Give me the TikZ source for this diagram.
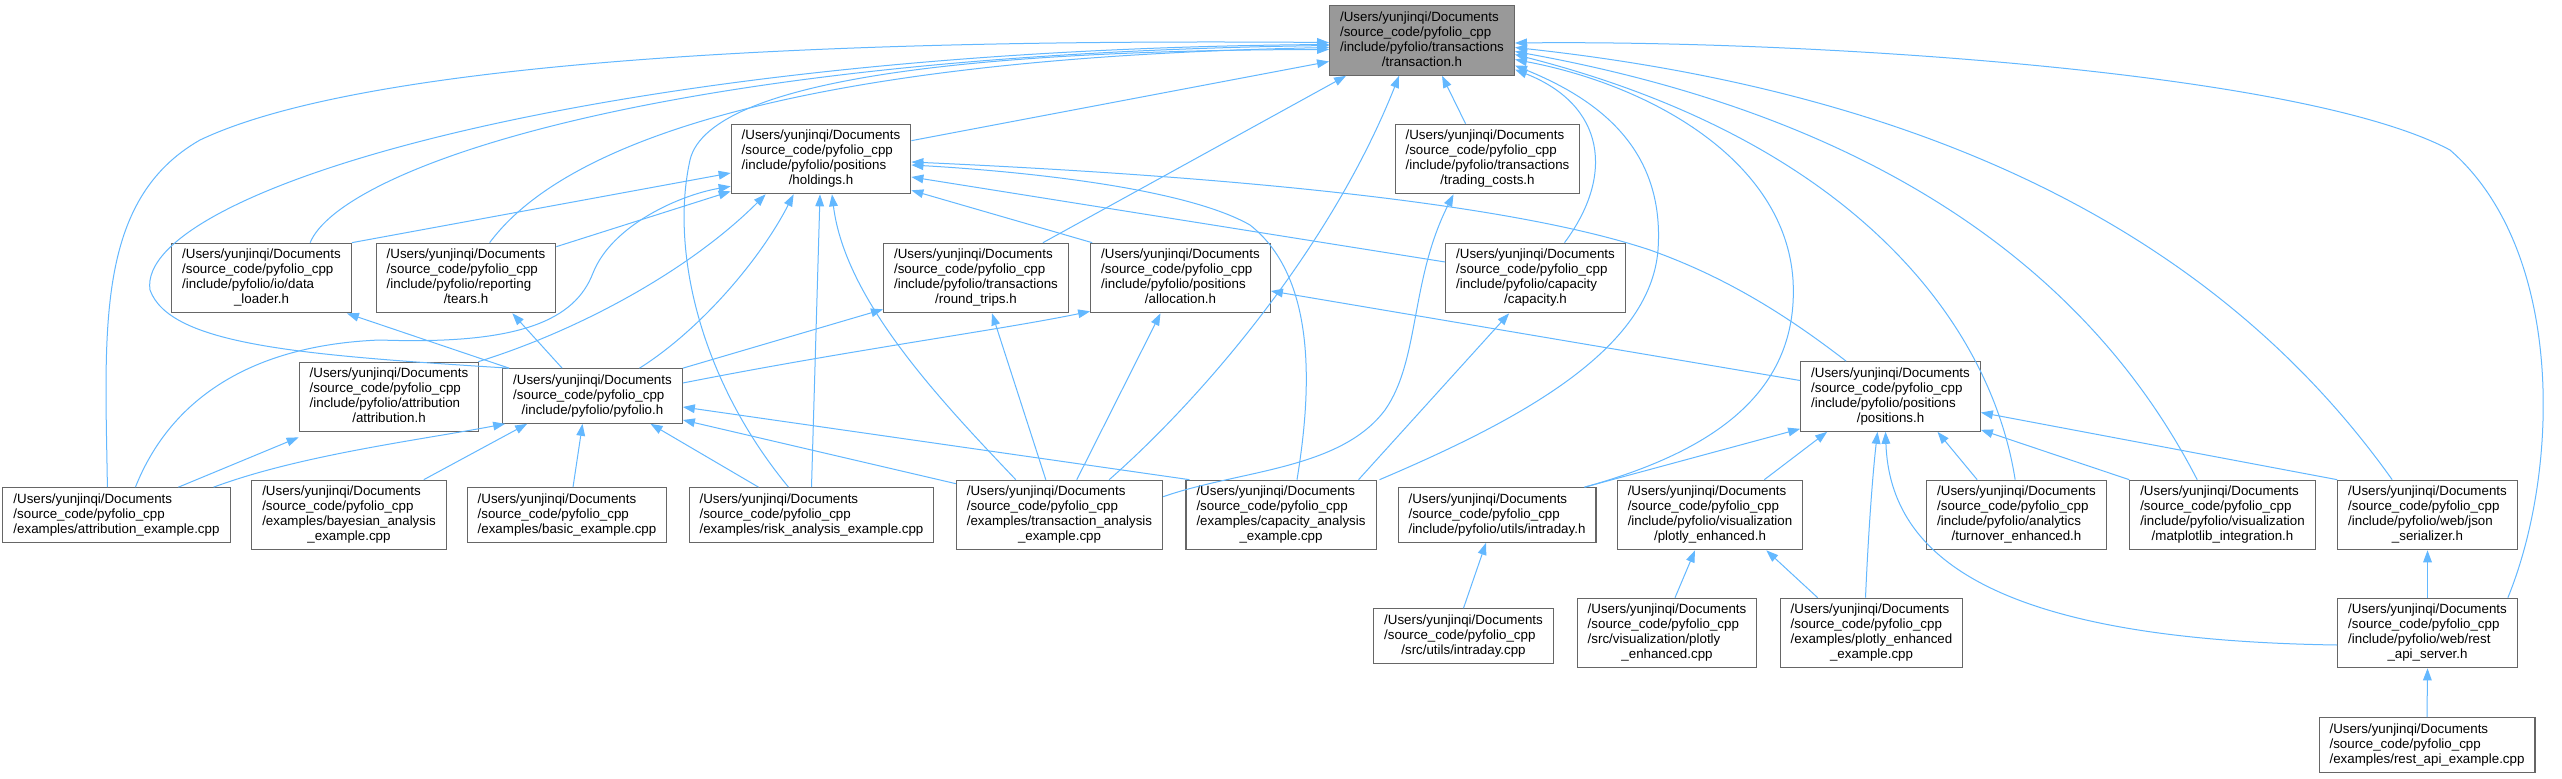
\documentclass[tikz,border=0pt]{standalone}
\usepackage{fontspec}
\setmainfont{Liberation Sans}
\usetikzlibrary{arrows.meta, calc}
\definecolor{edgeblue}{RGB}{99,184,255}
\definecolor{boxline}{RGB}{102,102,102}
\definecolor{rootfill}{RGB}{153,153,153}
\newcommand{\fourlines}[2]{\begin{tabular}{@{}l@{}}/Users/yunjinqi/Documents\\/source\_code/pyfolio\_cpp\\#1\\\multicolumn{1}{@{}c@{}}{#2}\end{tabular}}
\newcommand{\threelines}[1]{\begin{tabular}{@{}l@{}}/Users/yunjinqi/Documents\\/source\_code/pyfolio\_cpp\\\multicolumn{1}{@{}c@{}}{#1}\end{tabular}}
\tikzset{
  filebox/.style={rectangle, draw=boxline, fill=white, line width=0.8pt,
    inner xsep=7.9pt, inner ysep=3.6pt, font=\fontsize{10}{11.25}\selectfont},
  rootfile/.style={filebox, fill=rootfill},
  dep/.style={-{Triangle[length=9pt,width=6.5pt]}, color=edgeblue, line width=0.75pt}
}

\begin{document}
\begin{tikzpicture}[x=0.75pt, y=-0.75pt]
  \fill[white] (0,0) rectangle (2562,778);
  \useasboundingbox (0,0) rectangle (2562,778);

  % Top row
  \node[rootfile] (root) at (1422,40.5) {\fourlines{/include/pyfolio/transactions}{/transaction.h}};
  \node[filebox] (holdings) at (821,159) {\fourlines{/include/pyfolio/positions}{/holdings.h}};
  \node[filebox] (trading) at (1487.5,159) {\fourlines{/include/pyfolio/transactions}{/trading\_costs.h}};

  % Headers
  \node[filebox] (dataload) at (261.5,278) {\fourlines{/include/pyfolio/io/data}{\_loader.h}};
  \node[filebox] (tears) at (466,278) {\fourlines{/include/pyfolio/reporting}{/tears.h}};
  \node[filebox] (roundtrips) at (976,278) {\fourlines{/include/pyfolio/transactions}{/round\_trips.h}};
  \node[filebox] (alloc) at (1180.5,278) {\fourlines{/include/pyfolio/positions}{/allocation.h}};
  \node[filebox] (capacity) at (1535.5,278) {\fourlines{/include/pyfolio/capacity}{/capacity.h}};
  \node[filebox] (attrh) at (389,397) {\fourlines{/include/pyfolio/attribution}{/attribution.h}};
  \node[filebox] (pyfolio) at (592.5,396) {\threelines{/include/pyfolio/pyfolio.h}};
  \node[filebox] (positions) at (1890.5,396.5) {\fourlines{/include/pyfolio/positions}{/positions.h}};

  % Examples and leaf headers
  \node[filebox] (attrex) at (116.5,515) {\threelines{/examples/attribution\_example.cpp}};
  \node[filebox] (bayes) at (349,515) {\fourlines{/examples/bayesian\_analysis}{\_example.cpp}};
  \node[filebox] (basic) at (567,515) {\threelines{/examples/basic\_example.cpp}};
  \node[filebox] (risk) at (811.5,515) {\threelines{/examples/risk\_analysis\_example.cpp}};
  \node[filebox] (transex) at (1059.5,515) {\fourlines{/examples/transaction\_analysis}{\_example.cpp}};
  \node[filebox] (capex) at (1281,515) {\fourlines{/examples/capacity\_analysis}{\_example.cpp}};
  \node[filebox] (intrah) at (1497,515) {\threelines{/include/pyfolio/utils/intraday.h}};
  \node[filebox] (plotlyh) at (1710,515) {\fourlines{/include/pyfolio/visualization}{/plotly\_enhanced.h}};
  \node[filebox] (turnover) at (2016.5,515) {\fourlines{/include/pyfolio/analytics}{/turnover\_enhanced.h}};
  \node[filebox] (matplot) at (2222.5,515) {\fourlines{/include/pyfolio/visualization}{/matplotlib\_integration.h}};
  \node[filebox] (json) at (2427.5,515) {\fourlines{/include/pyfolio/web/json}{\_serializer.h}};

  % Bottom rows
  \node[filebox] (intracpp) at (1463.5,636) {\threelines{/src/utils/intraday.cpp}};
  \node[filebox] (plotlycpp) at (1667,633) {\fourlines{/src/visualization/plotly}{\_enhanced.cpp}};
  \node[filebox] (plotlyex) at (1871.5,633) {\fourlines{/examples/plotly\_enhanced}{\_example.cpp}};
  \node[filebox] (restsrv) at (2427.5,633) {\fourlines{/include/pyfolio/web/rest}{\_api\_server.h}};
  \node[filebox] (restex) at (2427,745) {\threelines{/examples/rest\_api\_example.cpp}};

  % Into transaction.h, left side
  \draw[dep] ($(attrex.north west)+(105,0)$) .. controls (105,330) and (95,200) .. (200,140)
    .. controls (400,45) and (1000,40) .. ($(root.west)+(0,2)$);
  \draw[dep] ($(pyfolio.north west)+(7,0)$) .. controls (300,355) and (170,345) .. (150,290)
    .. controls (135,190) and (600,50) .. ($(root.west)+(0,4)$);
  \draw[dep] ($(dataload.north west)+(139,0)$) .. controls (340,170) and (650,55) .. ($(root.west)+(0,5)$);
  \draw[dep] ($(tears.north west)+(114,0)$) .. controls (540,175) and (700,60) .. ($(root.west)+(0,7)$);
  \draw[dep] ($(risk.north west)+(100,0)$) .. controls (700,380) and (670,250) .. (690,160)
    .. controls (710,75) and (1000,50) .. ($(root.west)+(0,9)$);
  \draw[dep] ($(holdings.north east)+(0,17)$) -- ($(root.west)+(0,21)$);

  % Into transaction.h, bottom
  \draw[dep] ($(roundtrips.north east)+(-26,0)$) -- ($(root.south west)+(17,0)$);
  \draw[dep] ($(transex.north east)+(-54,0)$) .. controls (1200,400) and (1330,250) .. ($(root.south west)+(70,0)$);
  \draw[dep] ($(trading.north west)+(71,0)$) -- ($(root.south west)+(113,0)$);

  % Into transaction.h, right side
  \draw[dep] ($(restsrv.north east)+(-10,0)$) .. controls (2560,470) and (2565,250) .. (2450,150)
    .. controls (2300,70) and (1800,40) .. ($(root.east)+(0,2.5)$);
  \draw[dep] ($(json.north west)+(55,0)$) .. controls (2250,280) and (2000,100) .. ($(root.east)+(0,7)$);
  \draw[dep] ($(matplot.north west)+(68,0)$) .. controls (2120,330) and (1950,130) .. ($(root.east)+(0,11)$);
  \draw[dep] ($(turnover.north west)+(89,0)$) .. controls (1990,320) and (1850,140) .. ($(root.east)+(0,14)$);
  \draw[dep] ($(intrah.north east)+(-12,0)$) .. controls (1700,455) and (1800,400) .. (1793,280)
    .. controls (1785,160) and (1650,85) .. ($(root.east)+(0,19)$);
  \draw[dep] ($(capex.north east)+(3,0)$) .. controls (1520,420) and (1650,350) .. (1658,250)
    .. controls (1665,150) and (1600,100) .. ($(root.east)+(0,25)$);
  \draw[dep] ($(capacity.north)+(29,0)$) .. controls (1615,175) and (1605,105) .. ($(root.east)+(0,29)$);

  % Into holdings.h
  \draw[dep] (dataload.north east) -- ($(holdings.west)+(0,14)$);
  \draw[dep] ($(tears.north east)+(0,4)$) -- ($(holdings.south west)+(0,-3)$);
  \draw[dep] ($(attrex.north west)+(133,0)$) .. controls (170,400) and (250,345) .. (380,340)
    .. controls (520,345) and (575,320) .. (593,273)
    .. controls (612,225) and (680,195) .. ($(holdings.south west)+(0,-8)$);
  \draw[dep] ($(attrh.north east)+(-1,0)$) .. controls (580,330) and (690,270) .. ($(holdings.south west)+(35,0)$);
  \draw[dep] ($(pyfolio.north)+(47,0)$) .. controls (700,330) and (760,260) .. ($(holdings.south west)+(63,0)$);
  \draw[dep] (risk.north) -- ($(holdings.south)+(-1,0)$);
  \draw[dep] ($(transex.north west)+(60,0)$) .. controls (940,400) and (845,300) .. ($(holdings.south)+(11,0)$);
  \draw[dep] ($(alloc.north west)+(2,0)$) -- ($(holdings.south east)+(0,-4)$);
  \draw[dep] ($(capacity.west)+(0,-16)$) -- ($(holdings.east)+(0,18)$);
  \draw[dep] ($(capex.north)+(16,0)$) .. controls (1310,400) and (1320,280) .. (1250,225)
    .. controls (1180,185) and (1000,170) .. ($(holdings.east)+(0,6)$);
  \draw[dep] ($(positions.north west)+(46,0)$) .. controls (1780,310) and (1720,275) .. (1650,250)
    .. controls (1500,200) and (1200,175) .. ($(holdings.east)+(0,3)$);

  % Into pyfolio.h and its includes
  \draw[dep] ($(pyfolio.north west)+(7,0)$) -- ($(dataload.south east)+(-5,0)$);
  \draw[dep] ($(pyfolio.north west)+(60,0)$) -- ($(tears.south east)+(-44,0)$);
  \draw[dep] (pyfolio.north east) -- ($(roundtrips.south west)+(0,-4)$);
  \draw[dep] ($(pyfolio.east)+(0,-13)$) .. controls (850,350) and (1000,330) .. ($(alloc.south west)+(0,-2)$);
  \draw[dep] ($(attrex.north west)+(176,0)$) -- ($(attrh.south west)+(0,5)$);
  \draw[dep] ($(attrex.north east)+(-17,0)$) .. controls (300,455) and (420,440) .. ($(pyfolio.south west)+(3,0)$);
  \draw[dep] ($(bayes.north east)+(-23,0)$) -- ($(pyfolio.south west)+(25,0)$);
  \draw[dep] ($(basic.north)+(6,0)$) -- ($(pyfolio.south)+(-10,0)$);
  \draw[dep] ($(risk.north west)+(70,0)$) -- ($(pyfolio.south)+(58,0)$);
  \draw[dep] ($(transex.north west)+(0,4)$) -- ($(pyfolio.east)+(0,24)$);
  \draw[dep] ($(capex.north west)+(4,0)$) -- ($(pyfolio.east)+(0,11)$);

  % Transaction and capacity examples
  \draw[dep] ($(transex.north west)+(90,0)$) -- ($(roundtrips.south)+(16,0)$);
  \draw[dep] ($(transex.north west)+(121,0)$) -- ($(alloc.south)+(-20,0)$);
  \draw[dep] ($(transex.north east)+(0,17)$) .. controls (1240,470) and (1340,470) .. (1385,410)
    .. controls (1420,360) and (1410,280) .. ($(trading.south west)+(59,0)$);
  \draw[dep] ($(capex.north east)+(-18,0)$) -- ($(capacity.south west)+(64,0)$);
  \draw[dep] ($(positions.west)+(0,-16)$) -- ($(alloc.east)+(0,13)$);

  % Into positions.h
  \draw[dep] ($(intrah.north east)+(-12,0)$) -- ($(positions.south west)+(0,-3)$);
  \draw[dep] ($(plotlyh.north east)+(-39,0)$) -- ($(positions.south west)+(27,0)$);
  \draw[dep] ($(plotlyex.north)+(-6,0)$) .. controls (1868,540) and (1872,480) .. ($(positions.south)+(-13,0)$);
  \draw[dep] ($(restsrv.west)+(0,12)$) .. controls (2000,640) and (1890,560) .. ($(positions.south)+(-5,0)$);
  \draw[dep] ($(turnover.north west)+(51,0)$) -- ($(positions.south)+(47,0)$);
  \draw[dep] (matplot.north west) -- ($(positions.south east)+(0,-2)$);
  \draw[dep] (json.north west) -- ($(positions.east)+(0,16)$);

  % Leaves
  \draw[dep] (intracpp.north) -- ($(intrah.south)+(-11,0)$);
  \draw[dep] ($(plotlycpp.north)+(8,0)$) -- ($(plotlyh.south)+(-15,0)$);
  \draw[dep] ($(plotlyex.north west)+(38,0)$) -- ($(plotlyh.south east)+(-37,0)$);
  \draw[dep] (restsrv.north) -- (json.south);
  \draw[dep] (restex.north) -- (restsrv.south);
\end{tikzpicture}
\end{document}
